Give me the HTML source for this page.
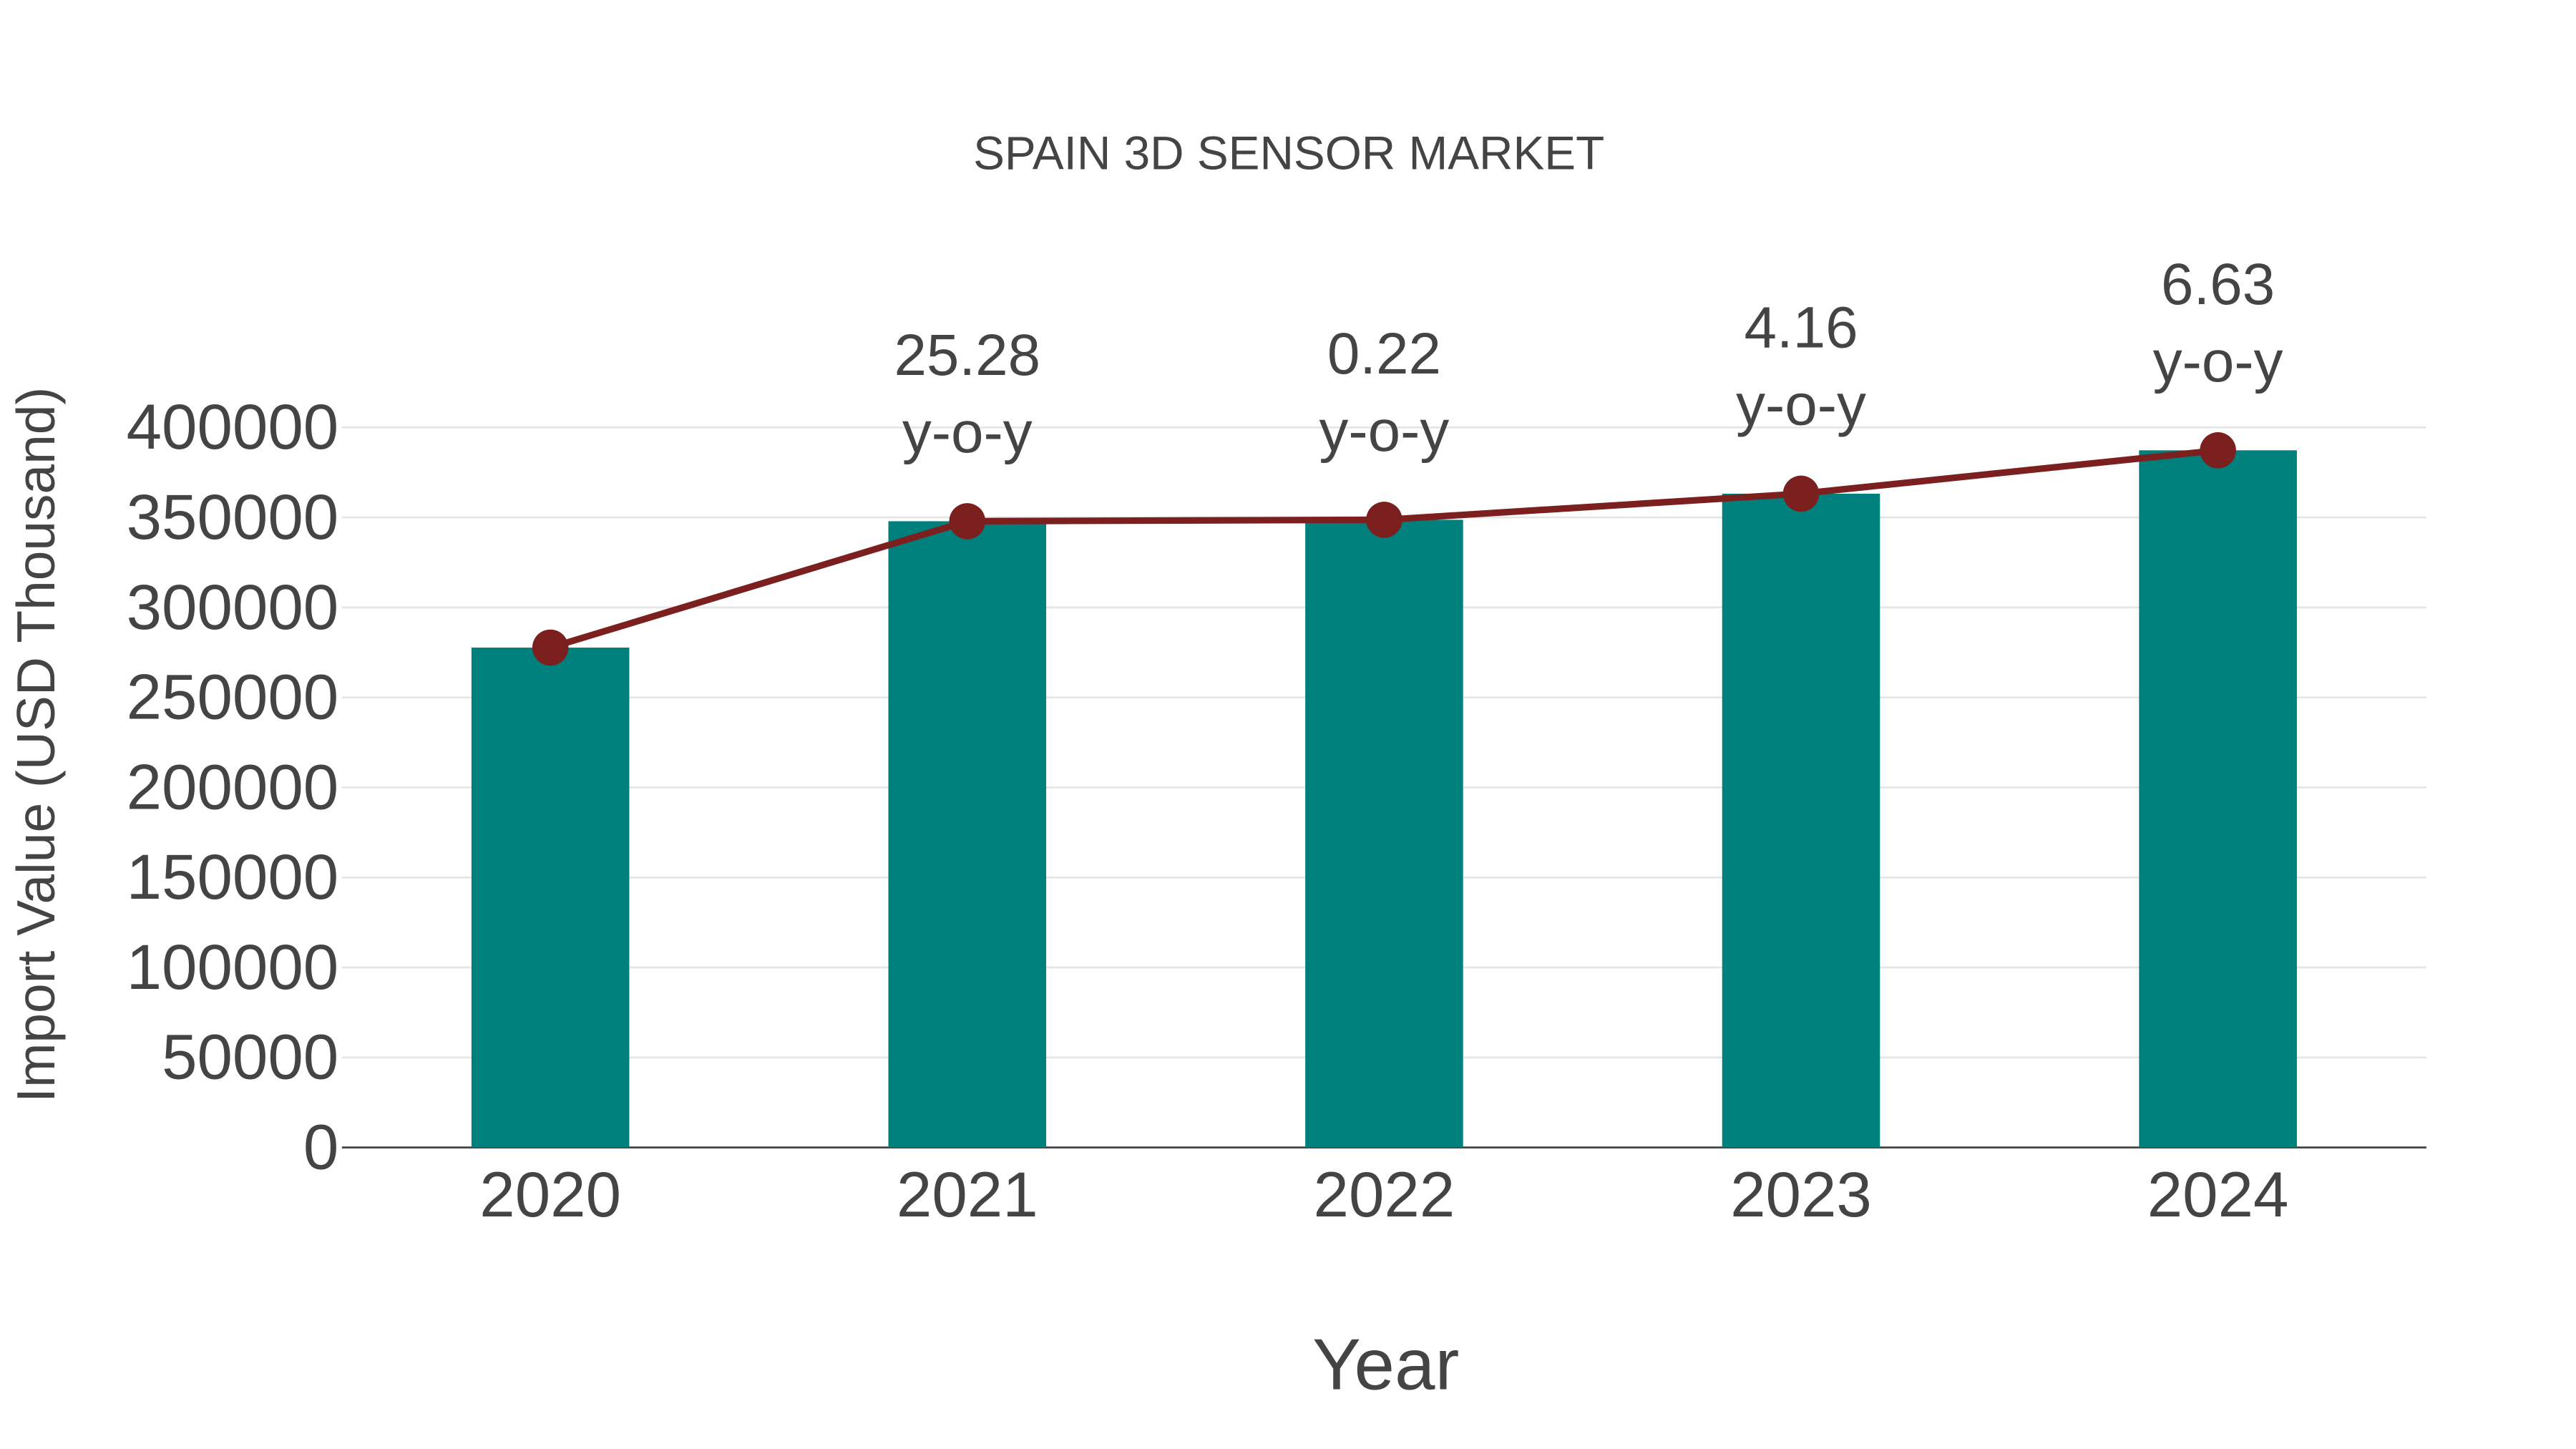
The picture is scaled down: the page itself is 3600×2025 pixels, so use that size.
<!DOCTYPE html>
<html><head><meta charset="utf-8"><style>
html,body{margin:0;padding:0;background:#fff;}
svg{display:block;font-family:"Liberation Sans",Arial,sans-serif;}
</style></head><body>
<svg id="chart" width="3600" height="2025" viewBox="0 0 1567 881.4" xmlns="http://www.w3.org/2000/svg">
<text x="784" y="103" text-anchor="middle" font-size="28.6" fill="#444">SPAIN 3D SENSOR MARKET</text>
<g id="grid"></g>
<g id="bars"></g>
<g id="line"></g>
<g id="labels"></g>
<text x="843" y="845" text-anchor="middle" font-size="44.2" fill="#444">Year</text>
<text transform="translate(33,453) rotate(-90)" text-anchor="middle" font-size="32.6" fill="#444">Import Value (USD Thousand)</text>
</svg>
<script>
const categories = ["2020","2021","2022","2023","2024"];
const importValues = [277700, 347900, 348700, 363200, 387300];
const yoyLabels = ["", "25.28", "0.22", "4.16", "6.63"];
const yTicks = [0,50000,100000,150000,200000,250000,300000,350000,400000];

const NS="http://www.w3.org/2000/svg";
const L=208, R=1476, B=698, T=260, yMax=400000;
const step=(R-L)/categories.length;
const xs=i=>L+step*(i+0.5);
const ys=v=>B-(v/yMax)*(B-T);
function mk(tag,attrs,parent){const e=document.createElementNS(NS,tag);for(const k in attrs)e.setAttribute(k,attrs[k]);parent.appendChild(e);return e;}
const grid=document.getElementById('grid'),bars=document.getElementById('bars'),line=document.getElementById('line'),labels=document.getElementById('labels');
yTicks.forEach(t=>{
  if(t>0){const g=mk('line',{x1:L,x2:R,y1:ys(t),y2:ys(t),stroke:'#e6e6e6','stroke-width':1.2},grid);
  
  }
  const tx=mk('text',{x:L-2,y:ys(t)+13,'text-anchor':'end','font-size':38.7,fill:'#444'},grid);
  tx.textContent=t;
  
  
});
const ax=mk('line',{x1:L,x2:R,y1:B,y2:B,stroke:'#444','stroke-width':1.2},grid);


const bw=96;
categories.forEach((c,i)=>{
  const r=mk('rect',{x:xs(i)-bw/2,y:ys(importValues[i]),width:bw,height:B-ys(importValues[i]),fill:'#00807c'},bars);
  
  
  const t=mk('text',{x:xs(i),y:740,'text-anchor':'middle','font-size':38.7,fill:'#444'},labels);
  t.textContent=c;
  
  
});
const pts=importValues.map((v,i)=>xs(i)+','+ys(v)).join(' ');
const pl=mk('polyline',{points:pts,fill:'none',stroke:'#7b1f1f','stroke-width':4},line);


importValues.forEach((v,i)=>{
  const c=mk('circle',{cx:xs(i),cy:ys(v),r:11,fill:'#7b1f1f'},line);
  
  
  if(yoyLabels[i]){
    const a=mk('text',{x:xs(i),y:ys(v)-89,'text-anchor':'middle','font-size':35.6,fill:'#444'},labels);
    a.textContent=yoyLabels[i];
    
    
    const b=mk('text',{x:xs(i),y:ys(v)-42,'text-anchor':'middle','font-size':35.6,fill:'#444'},labels);
    b.textContent='y-o-y';
    
    
  }
});
</script>
</body></html>
